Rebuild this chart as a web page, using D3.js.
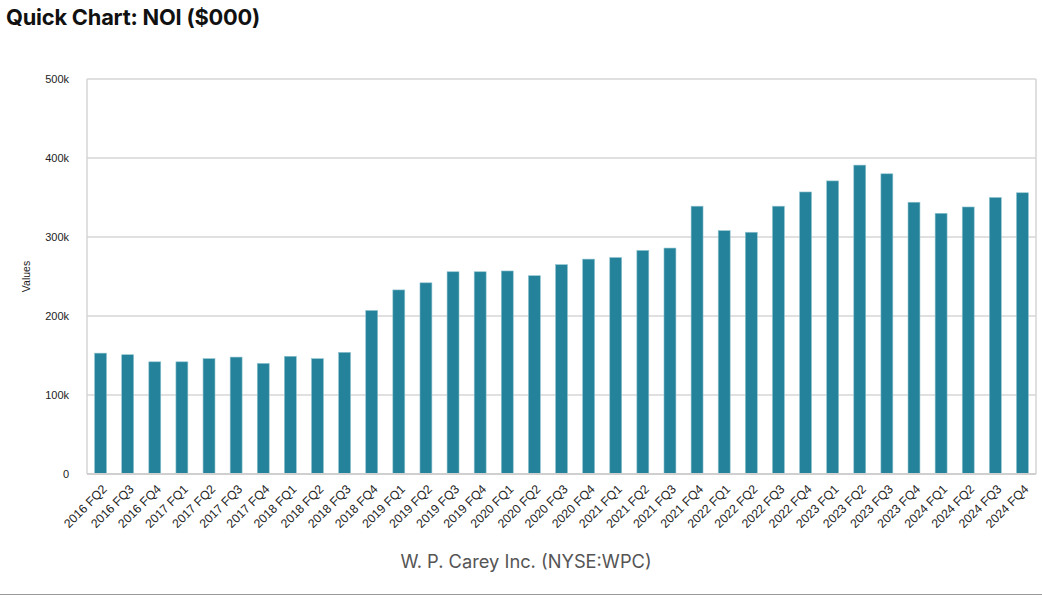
<!DOCTYPE html>
<html>
<head>
<meta charset="utf-8">
<script src="https://cdn.jsdelivr.net/npm/d3@7"></script>
<style>
  body { margin: 0; background: #fff; }
  svg { display: block; }
</style>
</head>
<body>
<svg id="chart" width="1042" height="601"></svg>
<script>
let width = 1042, height = 601;

// quarters shown on the x axis
let quarters = [
  "2016 FQ2", "2016 FQ3", "2016 FQ4",
  "2017 FQ1", "2017 FQ2", "2017 FQ3", "2017 FQ4",
  "2018 FQ1", "2018 FQ2", "2018 FQ3", "2018 FQ4",
  "2019 FQ1", "2019 FQ2", "2019 FQ3", "2019 FQ4",
  "2020 FQ1", "2020 FQ2", "2020 FQ3", "2020 FQ4",
  "2021 FQ1", "2021 FQ2", "2021 FQ3", "2021 FQ4",
  "2022 FQ1", "2022 FQ2", "2022 FQ3", "2022 FQ4",
  "2023 FQ1", "2023 FQ2", "2023 FQ3", "2023 FQ4",
  "2024 FQ1", "2024 FQ2", "2024 FQ3", "2024 FQ4"
];

// NOI in $000
let noi = [
  153000, 151000, 142000,
  142000, 146000, 148000, 140000,
  149000, 146000, 154000, 207000,
  233000, 242000, 256000, 256000,
  257000, 251000, 265000, 272000,
  274000, 283000, 286000, 339000,
  308000, 306000, 339000, 357000,
  371000, 391000, 380000, 344000,
  330000, 338000, 350000, 356000
];

let yTicks = [0, 100000, 200000, 300000, 400000, 500000];
let yTickLabels = ["0", "100k", "200k", "300k", "400k", "500k"];

let margin = { top: 79, right: 6, bottom: 127, left: 87 };
let plotW = width - margin.left - margin.right;
let plotH = height - margin.top - margin.bottom;

let svg = d3.select("#chart");

svg.append("text")
  .attr("x", 6).attr("y", 25)
  .attr("font-family", "Inter, Roboto, sans-serif")
  .attr("font-weight", 700)
  .attr("font-size", 21.8)
  .attr("letter-spacing", -0.2)
  .attr("fill", "#111")
  .text("Quick Chart: NOI ($000)");

let x = d3.scaleBand().domain(quarters).range([0, plotW]).paddingInner(0.56).paddingOuter(0.28);
let y = d3.scaleLinear().domain([0, 500000]).range([plotH, 0]);

let g = svg.append("g").attr("transform", `translate(${margin.left},${margin.top})`);

// grid
g.append("g")
  .selectAll("line")
  .data(yTicks.slice(1))
  .join("line")
  .attr("x1", 0).attr("x2", plotW)
  .attr("y1", d => y(d)).attr("y2", d => y(d))
  .attr("stroke", "#d6d6d6")
  .attr("stroke-width", 1.5);

// frame: left, right and bottom
g.append("line").attr("x1", 0).attr("x2", 0).attr("y1", 0).attr("y2", plotH)
  .attr("stroke", "#d6d6d6").attr("stroke-width", 1.5);
g.append("line").attr("x1", plotW).attr("x2", plotW).attr("y1", 0).attr("y2", plotH)
  .attr("stroke", "#d6d6d6").attr("stroke-width", 1.5);

// bars
g.append("g")
  .selectAll("rect")
  .data(noi)
  .join("rect")
  .attr("x", (d, i) => x(quarters[i]))
  .attr("y", d => y(d))
  .attr("width", x.bandwidth())
  .attr("height", d => plotH - y(d))
  .attr("fill", "#24829a")
  .attr("stroke", "#8fc3cf")
  .attr("stroke-width", 0.6);

g.append("line").attr("x1", 0).attr("x2", plotW).attr("y1", plotH).attr("y2", plotH)
  .attr("stroke", "#cfcfcf").attr("stroke-width", 2);

// y axis labels
let yAxis = g.append("g")
  .call(d3.axisLeft(y).tickValues(yTicks).tickFormat((d, i) => yTickLabels[i]).tickSize(0).tickPadding(18));
yAxis.select(".domain").remove();
yAxis.selectAll("text")
  .attr("font-family", "Liberation Sans, Arial, sans-serif")
  .attr("font-size", 11)
  .attr("fill", "#222");

// x axis labels
let xAxis = g.append("g")
  .attr("transform", `translate(0,${plotH})`)
  .call(d3.axisBottom(x).tickSize(0).tickPadding(0));
xAxis.select(".domain").remove();
xAxis.selectAll("text")
  .attr("font-family", "Liberation Sans, Arial, sans-serif")
  .attr("font-size", 12.3)
  .attr("fill", "#222")
  .attr("text-anchor", "end")
  .attr("dy", "0")
  .attr("transform", "translate(7,16) rotate(-45)");

svg.append("text")
  .attr("transform", `translate(30,${margin.top + plotH / 2}) rotate(-90)`)
  .attr("text-anchor", "middle")
  .attr("font-family", "Liberation Sans, Arial, sans-serif")
  .attr("font-size", 10.5)
  .attr("fill", "#222")
  .text("Values");

svg.append("text")
  .attr("x", 526).attr("y", 568)
  .attr("text-anchor", "middle")
  .attr("font-family", "Inter, Roboto, sans-serif")
  .attr("font-size", 18.3)
  .attr("fill", "#555")
  .text("W. P. Carey Inc. (NYSE:WPC)");

svg.append("line")
  .attr("x1", 0).attr("x2", width).attr("y1", 594.5).attr("y2", 594.5)
  .attr("stroke", "#9a9a9a").attr("stroke-width", 1);
</script>
</body>
</html>
